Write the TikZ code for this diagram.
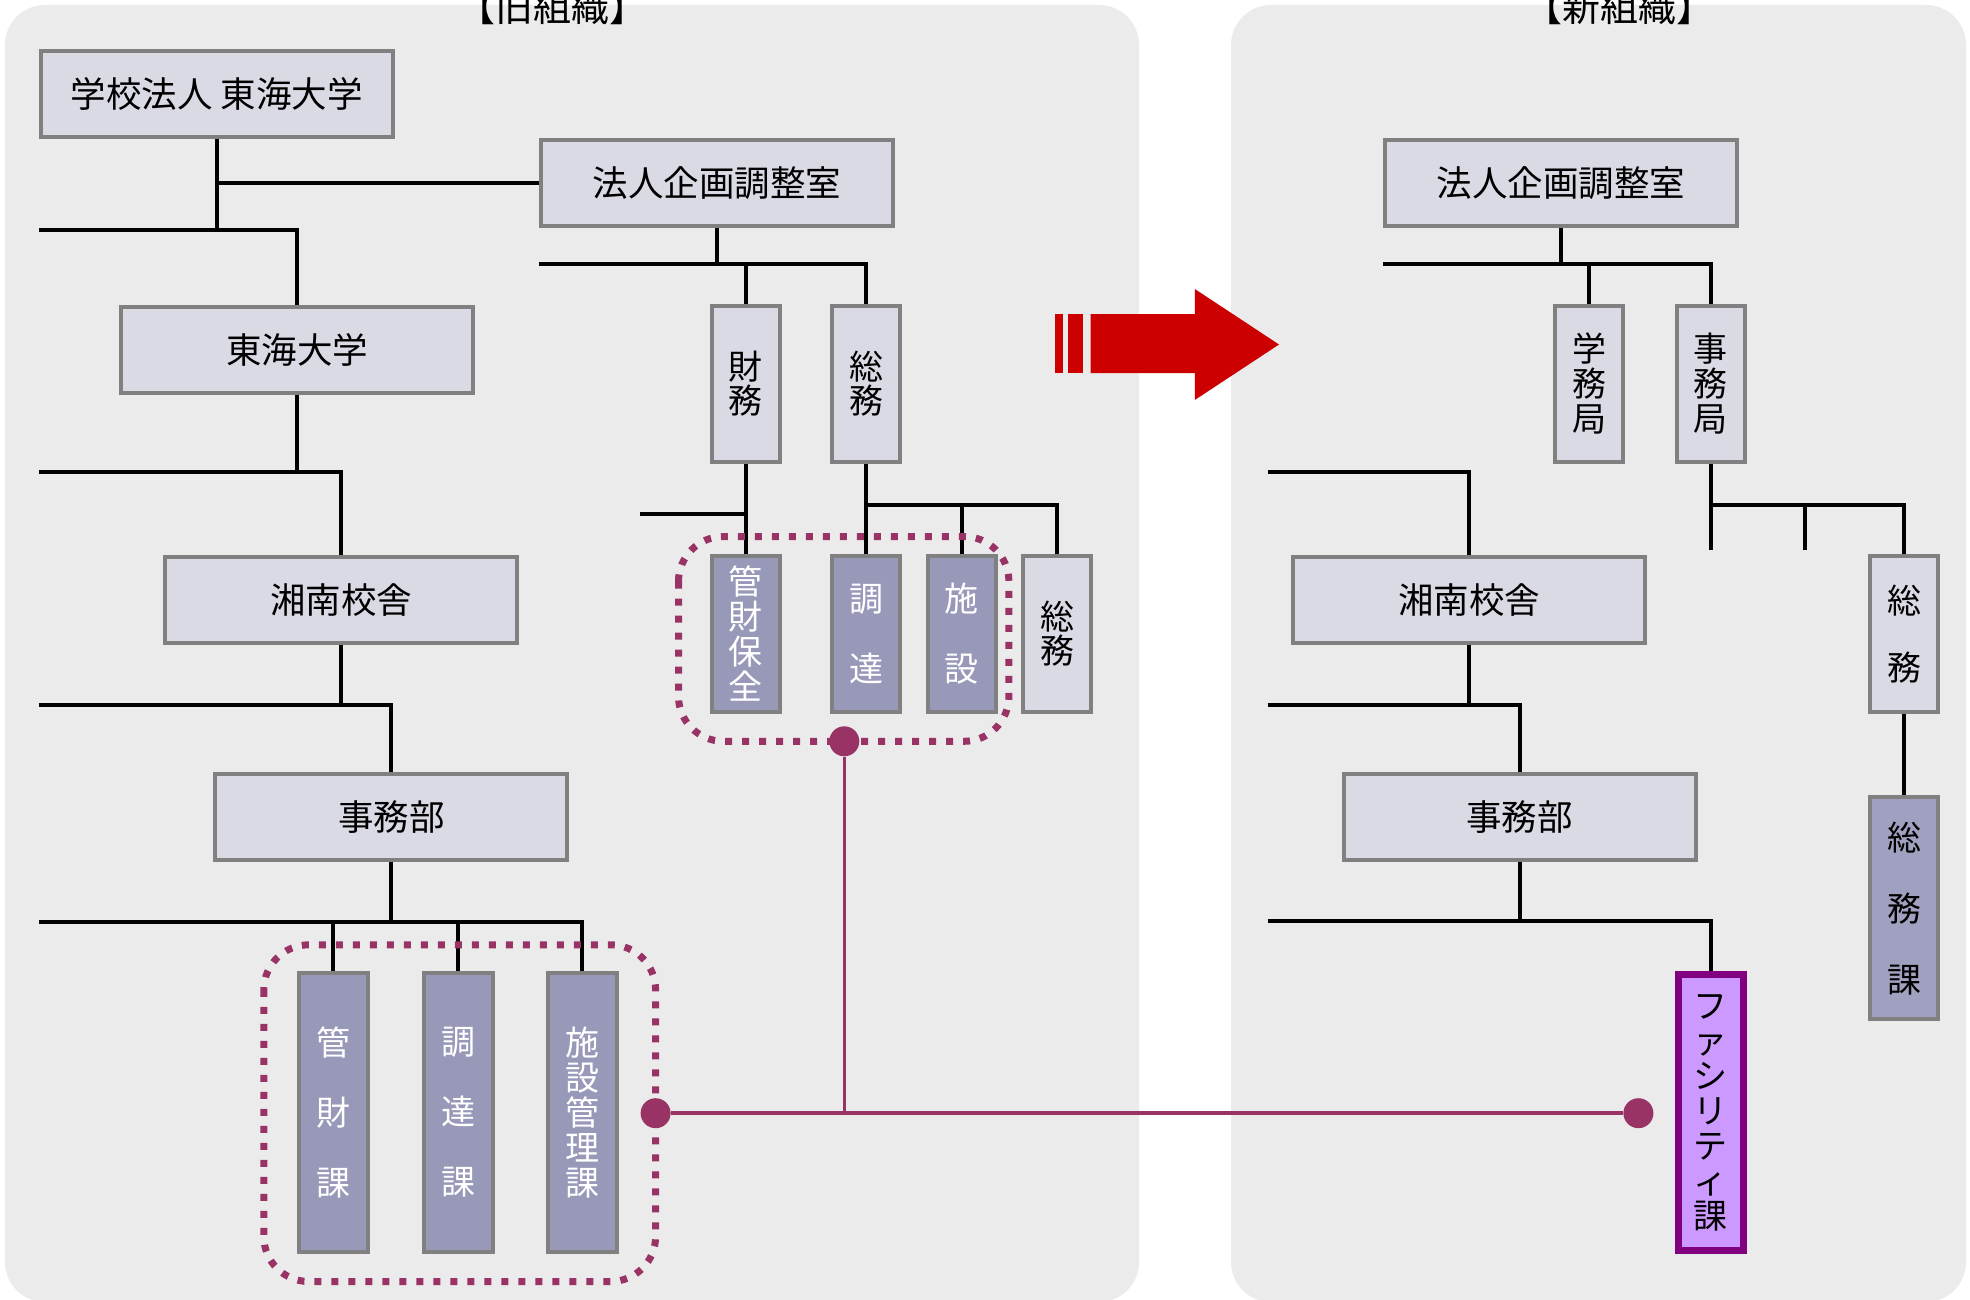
\documentclass[tikz,border=0pt]{standalone}
\usepackage{fontspec}
\newfontfamily\jp{Noto Sans CJK JP}
\definecolor{cpanel}{RGB}{235,235,235}
\definecolor{clight}{RGB}{218,218,229}
\definecolor{cdark}{RGB}{152,152,185}
\definecolor{cdark2}{RGB}{160,160,192}
\definecolor{cgray}{RGB}{128,128,128}
\definecolor{cplum}{RGB}{153,51,102}
\definecolor{cpurple}{RGB}{128,0,128}
\definecolor{cviolet}{RGB}{204,153,255}
\definecolor{cred}{RGB}{204,0,0}
\pgfdeclarelayer{back}
\pgfdeclarelayer{mid}
\pgfdeclarelayer{front}
\pgfsetlayers{back,mid,main,front}
\begin{document}
\begin{tikzpicture}[x=1pt,y=-1pt,
  conn/.style={line width=4pt, black},
  box/.style={draw=cgray, line width=4pt, fill=clight, inner sep=0pt, align=center,
    font=\jp\fontsize{35.5}{40}\selectfont},
  wbox/.style={box, minimum width=352pt, minimum height=86pt},
  nbox/.style={box, minimum width=68pt, minimum height=156pt, font=\jp\fontsize{34}{34}\selectfont},
  darkbox/.style={fill=cdark, text=white},
  tallbox/.style={box, darkbox, minimum width=69pt, minimum height=279pt},
  frame/.style={draw=cplum, line width=7pt, dash pattern=on 7pt off 10pt, rounded corners=45pt},
  pline/.style={draw=cplum, line width=3.5pt},
  pdot/.style={circle, fill=cplum, minimum size=30pt, inner sep=0pt},
  title/.style={font=\jp\fontsize{38}{40}\selectfont, anchor=base, inner sep=0pt}]
\useasboundingbox (0,0) rectangle (1970,1300);
\clip (0,0) rectangle (1970,1300);

% panels
\begin{pgfonlayer}{back}
\fill[white] (0,0) rectangle (1970,1300);
\fill[cpanel, rounded corners=40pt] (5,5) rectangle (1139,1302);
\fill[cpanel, rounded corners=40pt] (1231,5) rectangle (1966,1302);
% red arrow
\fill[cred] (1090.6,314) -- (1194.8,314) -- (1194.8,289) -- (1279,344.5) -- (1194.8,400) -- (1194.8,373) -- (1090.6,373) -- cycle;
\fill[cred] (1055,314) rectangle (1063,373);
\fill[cred] (1068,314) rectangle (1083,373);
\end{pgfonlayer}

% titles
\node[title] (t1) at (552,22) {【旧組織】};
\node[title] (t2) at (1619,22) {【新組織】};

% old organisation
\node[wbox] (hojin) at (216.7,94.2) {学校法人 東海大学};
\node[wbox] (kikaku) at (716.8,183.4) {法人企画調整室};
\node[wbox] (tokai) at (297.1,349.9) {東海大学};
\node[wbox] (shonan) at (341.1,600) {湘南校舎};
\node[wbox] (jimubu) at (391.4,816.7) {事務部};

\node[nbox] (zaimu) at (745.7,383.8) {財\\務};
\node[nbox] (somu1) at (866.3,383.8) {総\\務};

\node[nbox, darkbox, font=\jp\fontsize{34}{35}\selectfont] (kanzaihozen) at (745.7,633.9) {管\\財\\保\\全};
\node[nbox, darkbox, font=\jp\fontsize{34}{70}\selectfont] (chotatsu) at (866.3,633.9) {調\\達};
\node[nbox, darkbox, font=\jp\fontsize{34}{70}\selectfont] (shisetsu) at (961.8,633.9) {施\\設};
\node[nbox] (somu2) at (1057.3,633.9) {総\\務};

\node[tallbox, font=\jp\fontsize{34}{70}\selectfont] (kanzaika) at (333,1112.5) {管\\財\\課};
\node[tallbox, font=\jp\fontsize{34}{70}\selectfont] (chotatsuka) at (458,1112.5) {調\\達\\課};
\node[tallbox, font=\jp\fontsize{34}{35}\selectfont] (shisetsuka) at (582.3,1112.5) {施\\設\\管\\理\\課};

% new organisation
\node[wbox] (kikaku2) at (1561,183.4) {法人企画調整室};
\node[nbox, font=\jp\fontsize{34}{35}\selectfont] (gakumu) at (1589.3,383.8) {学\\務\\局};
\node[nbox, font=\jp\fontsize{34}{35}\selectfont] (jimukyoku) at (1710.6,383.8) {事\\務\\局};
\node[nbox, font=\jp\fontsize{34}{67}\selectfont] (somu3) at (1904,633.9) {総\\務};
\node[box, fill=cdark2, minimum width=68pt, minimum height=222pt, font=\jp\fontsize{34}{71}\selectfont] (somuka) at (1904,908.4) {総\\務\\課};
\node[wbox] (shonan2) at (1469.3,600) {湘南校舎};
\node[wbox] (jimubu2) at (1519.6,816.7) {事務部};
\node[box, draw=cpurple, line width=7pt, fill=cviolet, minimum width=65pt, minimum height=276pt,
  font=\jp\fontsize{34}{35}\selectfont] (facility) at (1710.6,1112.5) {フ\\ァ\\シ\\リ\\テ\\ィ\\課};

% connectors
\coordinate (b1) at (39,229.9);
\coordinate (b2) at (39,472.4);
\coordinate (b3) at (39,704.8);
\coordinate (b4) at (39,922.2);
\coordinate (k1) at (539,263.8);
\coordinate (z1) at (639.5,513.9);
\coordinate (s1) at (866.3,505);
\coordinate (r1) at (1383,263.8);
\coordinate (r2) at (1710.6,505);
\coordinate (r2e) at (1710.6,550.3);
\coordinate (r3) at (1805.4,550.3);
\coordinate (rb2) at (1267.7,472.4);
\coordinate (rb3) at (1267.7,704.8);
\coordinate (rb4) at (1267.7,921);
\begin{pgfonlayer}{mid}
\draw[conn] (hojin.south) -- (hojin.south |- b1);
\draw[conn] (hojin.south |- kikaku.west) -- (kikaku.west);
\draw[conn] (b1) -| (tokai.north);
\draw[conn] (tokai.south) -- (tokai.south |- b2);
\draw[conn] (b2) -| (shonan.north);
\draw[conn] (shonan.south) -- (shonan.south |- b3);
\draw[conn] (b3) -| (jimubu.north);
\draw[conn] (jimubu.south) -- (jimubu.south |- b4);
\draw[conn] (b4) -| (shisetsuka.north);
\draw[conn] (kanzaika.north) -- (kanzaika.north |- b4);
\draw[conn] (chotatsuka.north) -- (chotatsuka.north |- b4);

\draw[conn] (kikaku.south) -- (kikaku.south |- k1);
\draw[conn] (k1) -| (somu1.north);
\draw[conn] (zaimu.north) -- (zaimu.north |- k1);
\draw[conn] (zaimu.south) -- (kanzaihozen.north);
\draw[conn] (z1) -- (z1 -| zaimu.south);
\draw[conn] (somu1.south) -- (chotatsu.north);
\draw[conn] (s1) -| (somu2.north);
\draw[conn] (shisetsu.north) -- (shisetsu.north |- s1);

\draw[conn] (kikaku2.south) -- (kikaku2.south |- r1);
\draw[conn] (r1) -| (jimukyoku.north);
\draw[conn] (gakumu.north) -- (gakumu.north |- r1);
\draw[conn] (jimukyoku.south) -- (r2e);
\draw[conn] (r2) -| (somu3.north);
\draw[conn] (r3) -- (r3 |- r2);
\draw[conn] (somu3.south) -- (somuka.north);
\draw[conn] (rb2) -| (shonan2.north);
\draw[conn] (shonan2.south) -- (shonan2.south |- rb3);
\draw[conn] (rb3) -| (jimubu2.north);
\draw[conn] (jimubu2.south) -- (jimubu2.south |- rb4);
\draw[conn] (rb4) -| (facility.north);
\end{pgfonlayer}

% dotted groups and purple link
\begin{pgfonlayer}{front}
\draw[frame] (678.5,536.5) rectangle (1008.9,741.3);
\draw[frame] (263.8,944.8) rectangle (655.6,1281.5);
\node[pdot] (dotL) at (655.6,1113.2) {};
\node[pdot] (dotT) at (844.3,741.3) {};
\node[pdot] (dotR) at (1638.4,1113.2) {};
\draw[pline] (dotL) -- (dotR);
\draw[pline] (dotT) -- (dotT |- dotL);
\end{pgfonlayer}
\end{tikzpicture}
\end{document}
